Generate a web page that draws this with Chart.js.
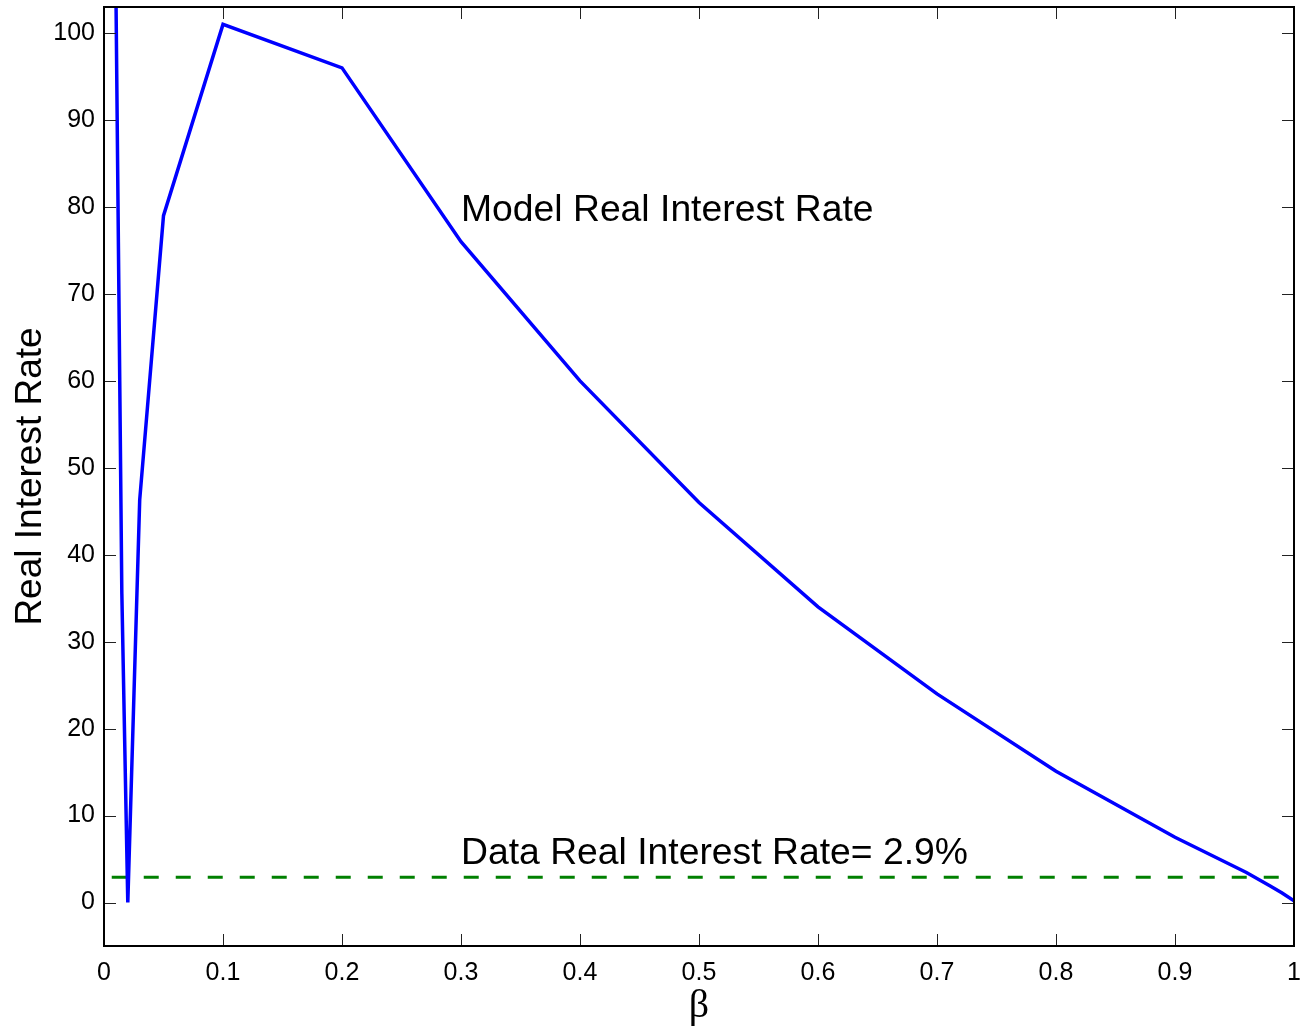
<!DOCTYPE html>
<html>
<head>
<meta charset="utf-8">
<script src="https://cdn.jsdelivr.net/npm/chart.js@4.4.1/dist/chart.umd.min.js"></script>
<style>
  body { margin: 0; background: #fff; }
  canvas { display: block; }
</style>
</head>
<body>
<canvas id="rate" width="1310" height="1030"></canvas>
<script>
// beta grid and model real interest rate
const betaVals  = [0.01, 0.015, 0.02, 0.03, 0.05, 0.1, 0.2, 0.3, 0.4, 0.5, 0.6, 0.7, 0.8, 0.9, 0.96, 0.98, 0.99, 1.0];
const modelRate = [105, 35.5, 0, 46.3, 79, 101, 96, 76, 60, 46, 34, 24, 15.1, 7.5, 3.45, 1.9, 1.1, 0.2];

// data real interest rate (horizontal dashed line)
const dataBeta = [0.0065, 1];
const dataRate = [2.9, 2.9];

const xTicks = [0, 0.1, 0.2, 0.3, 0.4, 0.5, 0.6, 0.7, 0.8, 0.9, 1];
const yTicks = [0, 10, 20, 30, 40, 50, 60, 70, 80, 90, 100];

const textNotes = [
  { x: 0.3, y: 79.6, text: 'Model Real Interest Rate' },
  { x: 0.3, y: 5.6, text: 'Data Real Interest Rate= 2.9%' }
];

const sans = 'Liberation Sans, Arial, sans-serif';

// box + inward tick marks on all four sides, plus the text labels
const matlabAxes = {
  id: 'matlabAxes',
  afterDatasetsDraw(chart) {
    const ctx = chart.ctx;
    const a = chart.chartArea;
    const xs = chart.scales.x, ys = chart.scales.y;
    ctx.save();
    ctx.strokeStyle = '#222';
    ctx.lineWidth = 1;
    ctx.beginPath();
    xTicks.forEach(v => {
      const px = Math.round(xs.getPixelForValue(v)) + 0.5;
      ctx.moveTo(px, a.bottom); ctx.lineTo(px, a.bottom - 12);
      ctx.moveTo(px, a.top); ctx.lineTo(px, a.top + 12);
    });
    yTicks.forEach(v => {
      const py = Math.round(ys.getPixelForValue(v)) + 0.5;
      ctx.moveTo(a.left, py); ctx.lineTo(a.left + 12, py);
      ctx.moveTo(a.right, py); ctx.lineTo(a.right - 12, py);
    });
    ctx.stroke();

    ctx.strokeStyle = '#000';
    ctx.lineWidth = 2;
    ctx.strokeRect(a.left, a.top, a.right - a.left, a.bottom - a.top);

    ctx.fillStyle = '#000';
    ctx.font = '37.3px ' + sans;
    ctx.textAlign = 'left';
    ctx.textBaseline = 'middle';
    textNotes.forEach(n => {
      ctx.fillText(n.text, xs.getPixelForValue(n.x), ys.getPixelForValue(n.y));
    });
    ctx.restore();
  }
};

new Chart(document.getElementById('rate'), {
  type: 'line',
  data: {
    datasets: [
      {
        label: 'Model',
        data: betaVals.map((b, i) => ({ x: b, y: modelRate[i] })),
        borderColor: '#0000ff',
        borderWidth: 3.5,
        pointRadius: 0,
        tension: 0,
        fill: false
      },
      {
        label: 'Data',
        data: dataBeta.map((b, i) => ({ x: b, y: dataRate[i] })),
        borderColor: '#008000',
        borderWidth: 3,
        borderDash: [15, 17],
        pointRadius: 0,
        fill: false
      }
    ]
  },
  options: {
    responsive: false,
    animation: false,
    devicePixelRatio: 1,
    layout: { padding: { left: 0, right: 16, top: 7, bottom: 0 } },
    plugins: { legend: { display: false }, tooltip: { enabled: false } },
    scales: {
      x: {
        type: 'linear',
        min: 0,
        max: 1,
        afterBuildTicks: s => { s.ticks = xTicks.map(v => ({ value: v })); },
        afterFit: s => { s.height = 84; s.paddingLeft = 0; s.paddingRight = 0; },
        grid: { display: false, drawTicks: false },
        border: { display: false },
        ticks: {
          color: '#000',
          padding: 12,
          maxRotation: 0,
          font: { family: sans, size: 25 },
          callback: v => String(v)
        },
        title: {
          display: true,
          text: 'β',
          color: '#000',
          font: { family: 'Liberation Serif, Times New Roman, serif', size: 40 },
          padding: { top: 0, bottom: 0 }
        }
      },
      y: {
        type: 'linear',
        min: -5,
        max: 103,
        afterBuildTicks: s => { s.ticks = yTicks.map(v => ({ value: v })); },
        afterFit: s => { s.width = 104; s.paddingTop = 0; s.paddingBottom = 0; },
        grid: { display: false, drawTicks: false },
        border: { display: false },
        ticks: {
          color: '#000',
          padding: 9,
          font: { family: sans, size: 25 },
          callback: v => String(v)
        },
        title: {
          display: true,
          text: 'Real Interest Rate',
          color: '#000',
          font: { family: sans, size: 37 },
          padding: { top: 9, bottom: 0 }
        }
      }
    }
  },
  plugins: [matlabAxes]
});
</script>
</body>
</html>
